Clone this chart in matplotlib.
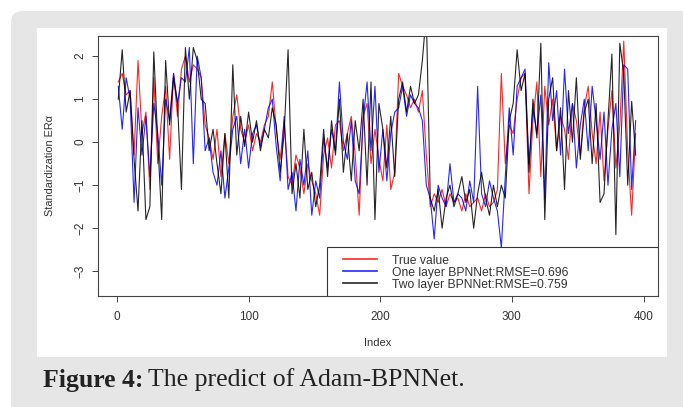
import numpy as np
import matplotlib
matplotlib.use("Agg")
import matplotlib.pyplot as plt
from matplotlib.patches import FancyBboxPatch, Rectangle

plt.rcParams['font.family'] = ['Liberation Sans', 'DejaVu Sans']

# sampled every 3rd index of the 395 test points
index = np.arange(1, 395, 3)

true_value = [
    1.4, 1.6, 1.1, 1.2, -0.3, 1.9, 0.2, 0.7, -1.1, 1.5,
    -0.5, 0.6, 1.3, -0.4, 1.6, 0.6, 1.7, 2.0, 1.4, 1.8,
    1.7, 1.5, 0.4, 0.1, -0.4, 0.3, -0.8, 0.2, -0.5, 0.6,
    1.1, 0.3, 0.0, 0.4, -0.2, 0.2, 0.0, 0.4, 0.6, 1.4,
    0.3, -0.4, 0.5, -0.8, -1.0, -0.3, -0.6, -1.2, -0.5, -0.9,
    -1.2, -1.7, -0.3, 0.1, -0.6, 0.4, 0.5, -0.2, 0.2, 0.6,
    -0.3, -1.7, 0.6, 0.9, -0.5, 0.3, -0.4, -0.9, 0.4, -1.1,
    -0.7, 1.6, 1.3, 1.1, 0.8, 1.0, 0.7, 1.2, -0.3, -1.5,
    -1.2, -1.4, -1.1, -1.5, -1.2, -1.4, -1.3, -1.6, -1.2, -1.5,
    -1.4, -1.3, -1.6, -1.2, -1.5, -1.4, -1.1, 1.6, -0.5, 0.4,
    0.2, 1.0, 1.5, 1.6, -1.2, 0.5, 1.4, -0.8, 1.3, 0.4,
    1.0, -0.2, 0.6, 0.3, -0.4, 0.9, 0.5, -0.3, 0.8, 1.3,
    0.2, -0.5, 0.7, -0.9, 0.3, 1.2, -0.6, 0.4, 2.35, -0.2,
    -1.7, 0.2,
]

one_layer = [
    1.3, 0.3, 1.5, 1.0, -1.4, 0.8, -0.3, 0.6, -0.8, 0.9,
    0.2, -1.0, 1.0, 0.5, 1.6, 0.9, 1.5, 1.4, 2.2, -0.5,
    2.0, 1.5, -0.2, 0.1, -0.7, -1.0, -0.2, -1.3, -0.6, 0.3,
    0.6, -0.5, 0.3, -0.6, 0.2, 0.4, -0.1, 0.3, 0.8, 1.0,
    -0.1, -0.9, 0.6, -1.1, -0.7, -1.6, -0.4, -1.0, -0.2, -1.7,
    -0.9, -1.3, 0.1, -0.6, 0.3, -0.2, 1.4, 0.0, -0.4, 0.5,
    -0.9, -1.2, 0.5, 1.4, -0.2, 1.3, -0.7, 0.3, -0.9, 0.2,
    0.7, 0.8, 1.3, 0.6, 1.1, 0.9, 0.8, 0.5, -1.0, -1.3,
    -2.25, -1.0, -1.3, -1.5, -0.5, -1.4, -1.2, -1.3, -1.6, -0.9,
    -1.4, 1.3, -1.2, -1.5, -0.9, -1.3, -1.6, -2.45, -0.8, 0.8,
    -0.3, 1.3, 1.5, 1.7, -0.5, 0.8, 0.2, 1.1, -1.3, 1.85,
    0.5, 1.2, -0.3, 1.7, 0.2, 0.9, -0.6, 0.4, 1.0, -0.2,
    1.3, 0.5, -0.4, 0.7, -1.0, 0.3, 0.9, -0.8, 1.8, 1.7,
    -1.1, 0.5,
]

two_layer = [
    1.0, 2.15, 0.7, 1.2, -0.4, -1.6, 0.5, -1.8, -1.5, 2.1,
    0.0, -1.8, 1.9, 0.4, 1.5, 0.9, -1.1, 2.2, 1.0, 2.2,
    1.9, 1.0, 0.9, -0.2, 0.3, -0.5, -1.2, 0.2, -1.3, 1.8,
    -0.3, 0.6, -0.1, 0.7, 0.0, 0.5, -0.2, 0.3, 0.1, 0.8,
    0.4, -0.7, 0.2, 2.15, -1.2, -0.5, -1.3, 0.3, -1.1, -0.7,
    -1.5, -1.0, 0.3, -0.8, 0.5, -0.3, 1.0, -0.7, 0.2, -0.9,
    0.5, -0.2, 1.0, -1.0, 1.4, -1.8, 0.9, 0.3, -0.6, 0.6,
    -0.8, 1.0, 1.4, 0.7, 1.3, 0.9, 1.1, 1.9, 3.0, -1.3,
    -1.6, -1.1, -2.0, -1.3, -1.0, -1.5, -1.2, -0.8, -1.4, -1.1,
    -2.0, -1.2, -0.7, -1.3, -1.7, -1.0, -1.5, -1.0, -1.3, 0.5,
    0.9, 2.15, 1.2, 1.6, -0.7, 1.0, 0.1, 2.3, -1.8, 1.0,
    1.5, -0.2, 0.8, -1.1, 1.2, 0.0, 1.5, -0.4, 0.7, 1.0,
    -0.5, 0.9, -1.4, -1.2, 0.5, 2.05, -2.15, 2.3, 1.6, -1.0,
    0.95, -0.3,
]

labels = ["True value", "One layer BPNNet:RMSE=0.696", "Two layer BPNNet:RMSE=0.759"]
colors = ["#ff0000", "#0000ff", "#000000"]

fig = plt.figure(figsize=(6.83, 4.07), dpi=100)
fig.patch.set_facecolor("white")

# grey card with rounded corner, white panel inside
card = FancyBboxPatch((0.11, -0.3), 7.0, 4.26, boxstyle="round,pad=0,rounding_size=0.12",
                      transform=fig.dpi_scale_trans, facecolor="#e6e6e6", edgecolor="none",
                      zorder=-3)
fig.patches.append(card)
panel = Rectangle((0.37, 0.50), 6.30, 3.29, transform=fig.dpi_scale_trans,
                  facecolor="white", edgecolor="none", zorder=-2)
fig.patches.append(panel)

ax = fig.add_axes([0.1429, 0.2735, 0.8201, 0.6381])
ax.set_zorder(1)
for y, lab, c in zip([true_value, one_layer, two_layer], labels, colors):
    ax.plot(index, y, color=c, lw=0.8, alpha=0.85, label=lab)

ax.set_xlim(-14.7, 410.8)
ax.set_ylim(-3.57, 2.47)
ax.set_xticks([0, 100, 200, 300, 400])
ax.set_yticks([-3, -2, -1, 0, 1, 2])
ax.tick_params(axis="both", length=4, width=0.7, color="#444444", labelsize=8.5,
               labelcolor="#333333")
ax.tick_params(axis="x", pad=7)
ax.tick_params(axis="y", pad=4)
for t in ax.get_yticklabels():
    t.set_rotation(90)
    t.set_va("center")
for s in ax.spines.values():
    s.set_color("#444444")
    s.set_linewidth(0.8)

ax.set_xlabel("Index", fontsize=8, color="#333333", labelpad=11)
ax.set_ylabel("Standardization ER\u03b1", fontsize=7.8, color="#333333", labelpad=14)

# legend box in the bottom right corner (R style), entries placed inside it
ax.add_patch(Rectangle((0.41, 0.0), 0.59, 0.186, transform=ax.transAxes, facecolor="white",
                       edgecolor="#333333", lw=0.8, zorder=5))
leg = ax.legend(loc="upper left", bbox_to_anchor=(0.438, 0.158), frameon=False,
                borderaxespad=0, borderpad=0, fontsize=8.7, handlelength=2.8,
                handletextpad=1.3, labelspacing=0.0)
leg.set_zorder(6)
for t in leg.get_texts():
    t.set_color("#333333")
for h in leg.get_lines():
    h.set_linewidth(1.2)
    h.set_alpha(0.85)

# caption: bold lead-in followed by regular text
cap1 = fig.text(0.43 / 6.83, 0.27 / 4.07, "Figure 4:", family="Liberation Serif",
                weight="bold", fontsize=18.5, color="#222222", va="center")
fig.canvas.draw()
bb = cap1.get_window_extent()
fig.text((bb.x1 + 5) / 683, 0.27 / 4.07, "The predict of Adam-BPNNet.",
         family="Liberation Serif", fontsize=18.5, color="#222222", va="center")

fig.savefig("out.png", dpi=100)
